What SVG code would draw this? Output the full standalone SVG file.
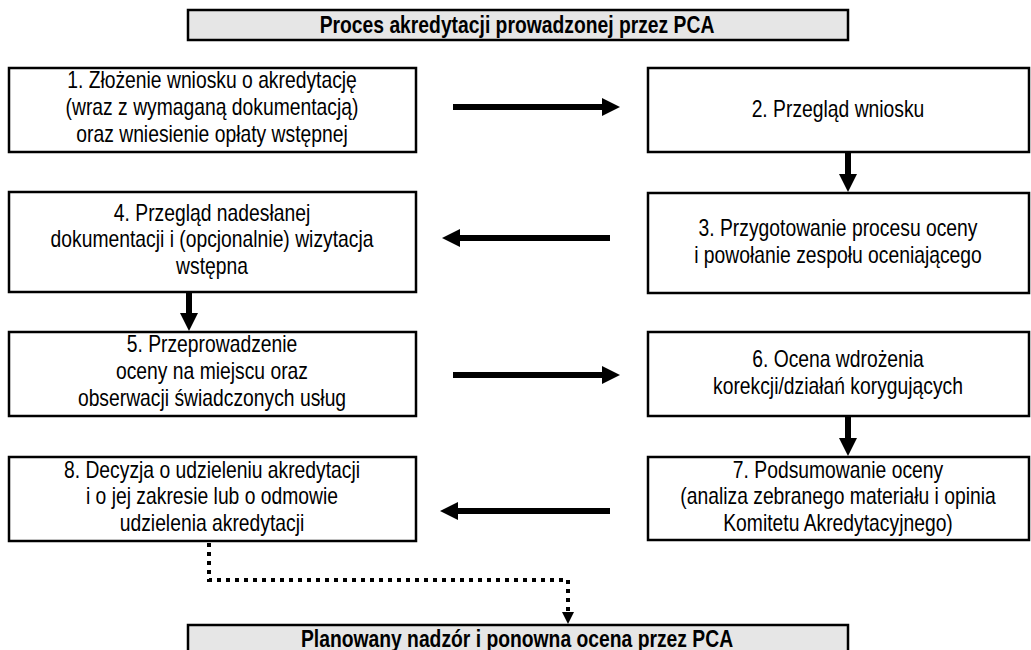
<svg xmlns="http://www.w3.org/2000/svg" width="1031" height="650" viewBox="0 0 1031 650">
<defs>
<style>
.box{fill:#fff;stroke:#000;stroke-width:2.5}
.hdr{fill:#e6e6e6;stroke:#000;stroke-width:2.5}
.t{font-family:"Liberation Sans",Arial,sans-serif;font-size:23px;fill:#000;text-anchor:middle}
.h{font-family:"Liberation Sans",Arial,sans-serif;font-size:23px;font-weight:bold;fill:#000;text-anchor:middle}
.ar{stroke:#000;stroke-width:6;fill:none}
.dot{stroke:#000;stroke-width:4;fill:none;stroke-dasharray:4 5}
</style>
<marker id="ah" markerUnits="userSpaceOnUse" markerWidth="20" markerHeight="20" refX="0" refY="9" orient="auto" viewBox="0 0 20 18">
<path d="M0,0 L18,9 L0,18 Z" fill="#000"/>
</marker>
<marker id="ahs" markerUnits="userSpaceOnUse" markerWidth="14" markerHeight="14" refX="0" refY="6" orient="auto" viewBox="0 0 14 12">
<path d="M0,0 L12,6 L0,12 Z" fill="#000"/>
</marker>
</defs>

<g id="title">
<rect class="hdr" x="188" y="10" width="660" height="30"/>
<text class="h" transform="translate(517,33) scale(0.84,1)">Proces akredytacji prowadzonej przez PCA</text>
</g>

<g id="n1">
<rect class="box" x="9" y="68" width="407" height="84"/>
<text class="t" transform="translate(212,88) scale(0.84,1)">1. Złożenie wniosku o akredytację</text>
<text class="t" transform="translate(212,115) scale(0.84,1)">(wraz z wymaganą dokumentacją)</text>
<text class="t" transform="translate(212,142) scale(0.84,1)">oraz wniesienie opłaty wstępnej</text>
</g>

<g id="n2">
<rect class="box" x="648" y="68" width="381" height="84"/>
<text class="t" transform="translate(838,117) scale(0.84,1)">2. Przegląd wniosku</text>
</g>

<g id="n3">
<rect class="box" x="648" y="193" width="381" height="100"/>
<text class="t" transform="translate(838,236) scale(0.84,1)">3. Przygotowanie procesu oceny</text>
<text class="t" transform="translate(838,263) scale(0.84,1)">i powołanie zespołu oceniającego</text>
</g>

<g id="n4">
<rect class="box" x="9" y="192" width="407" height="100"/>
<text class="t" transform="translate(212,221) scale(0.84,1)">4. Przegląd nadesłanej</text>
<text class="t" transform="translate(212,247) scale(0.84,1)">dokumentacji i (opcjonalnie) wizytacja</text>
<text class="t" transform="translate(212,274) scale(0.84,1)">wstępna</text>
</g>

<g id="n5">
<rect class="box" x="9" y="332" width="407" height="84"/>
<text class="t" transform="translate(212,352) scale(0.84,1)">5. Przeprowadzenie</text>
<text class="t" transform="translate(212,379) scale(0.84,1)">oceny na miejscu oraz</text>
<text class="t" transform="translate(212,406) scale(0.84,1)">obserwacji świadczonych usług</text>
</g>

<g id="n6">
<rect class="box" x="648" y="332" width="381" height="84"/>
<text class="t" transform="translate(838,367) scale(0.84,1)">6. Ocena wdrożenia</text>
<text class="t" transform="translate(838,394) scale(0.84,1)">korekcji/działań korygujących</text>
</g>

<g id="n7">
<rect class="box" x="648" y="457" width="381" height="83"/>
<text class="t" transform="translate(838,478) scale(0.84,1)">7. Podsumowanie oceny</text>
<text class="t" transform="translate(838,504) scale(0.84,1)">(analiza zebranego materiału i opinia</text>
<text class="t" transform="translate(838,531) scale(0.84,1)">Komitetu Akredytacyjnego)</text>
</g>

<g id="n8">
<rect class="box" x="9" y="457" width="407" height="84"/>
<text class="t" transform="translate(212,478) scale(0.84,1)">8. Decyzja o udzieleniu akredytacji</text>
<text class="t" transform="translate(212,504) scale(0.84,1)">i o jej zakresie lub o odmowie</text>
<text class="t" transform="translate(212,531) scale(0.84,1)">udzielenia akredytacji</text>
</g>

<g id="bottom">
<rect class="hdr" x="188" y="625" width="660" height="32"/>
<text class="h" transform="translate(517,647) scale(0.84,1)">Planowany nadzór i ponowna ocena przez PCA</text>
</g>

<g id="connectors">
<line class="ar" x1="453" y1="107" x2="602" y2="107" marker-end="url(#ah)"/>
<line class="ar" x1="848" y1="153" x2="848" y2="174" marker-end="url(#ah)"/>
<line class="ar" x1="610" y1="238" x2="460" y2="238" marker-end="url(#ah)"/>
<line class="ar" x1="189" y1="293" x2="189" y2="313" marker-end="url(#ah)"/>
<line class="ar" x1="453" y1="375" x2="602" y2="375" marker-end="url(#ah)"/>
<line class="ar" x1="848" y1="417" x2="848" y2="438" marker-end="url(#ah)"/>
<line class="ar" x1="610" y1="511" x2="458" y2="511" marker-end="url(#ah)"/>
<polyline class="dot" points="209,543 209,580 568,580 568,612" marker-end="url(#ahs)"/>
</g>
</svg>
